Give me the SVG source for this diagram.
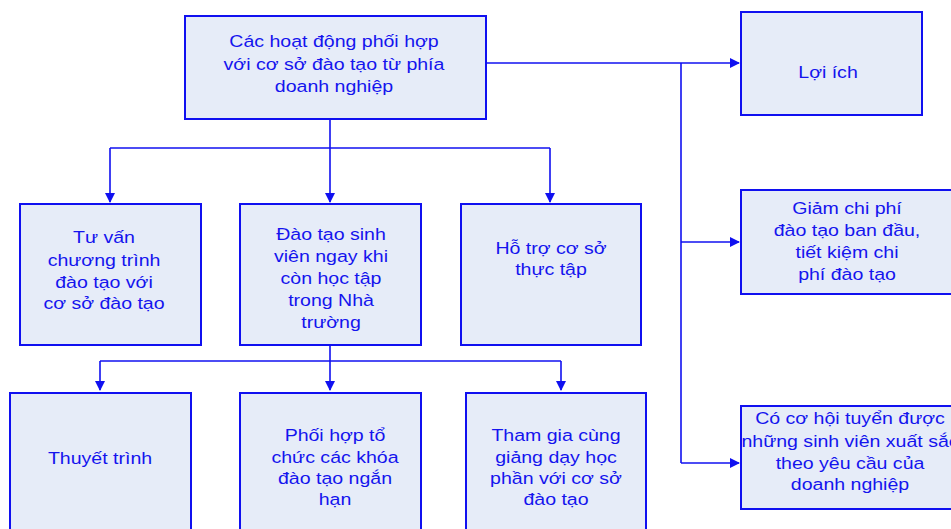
<svg xmlns="http://www.w3.org/2000/svg" width="951" height="529" viewBox="0 0 951 529">
<style>
.box{fill:#e6ecf8;stroke:#1010f0;stroke-width:2}
.t{font-family:"Liberation Sans",Arial,sans-serif;font-size:17px;fill:#1414ee;text-anchor:middle}
.c{fill:none;stroke:#1010f0;stroke-width:1.6}
</style>
<defs>
<marker id="ah" markerWidth="10" markerHeight="10" refX="9" refY="5" orient="auto" markerUnits="userSpaceOnUse">
<path d="M0,0 L10,5 L0,10 z" fill="#1010f0"/>
</marker>
</defs>
<rect width="951" height="529" fill="#ffffff"/>
<g id="connectors">
<path class="c" d="M486,63 H739" marker-end="url(#ah)"/>
<path class="c" d="M681,63 V463"/>
<path class="c" d="M681,242 H739" marker-end="url(#ah)"/>
<path class="c" d="M681,463 H739" marker-end="url(#ah)"/>
<path class="c" d="M330,119 V202" marker-end="url(#ah)"/>
<path class="c" d="M110,148 H550"/>
<path class="c" d="M110,148 V202" marker-end="url(#ah)"/>
<path class="c" d="M550,148 V202" marker-end="url(#ah)"/>
<path class="c" d="M330,345 V390" marker-end="url(#ah)"/>
<path class="c" d="M100,361 H561"/>
<path class="c" d="M100,361 V390" marker-end="url(#ah)"/>
<path class="c" d="M561,361 V390" marker-end="url(#ah)"/>
</g>
<g id="top">
<rect class="box" x="185" y="16" width="301" height="103"/>
<text class="t" transform="translate(334 47) scale(1.15 1)">Các hoạt động phối hợp</text>
<text class="t" transform="translate(334 70) scale(1.15 1)">với cơ sở đào tạo từ phía</text>
<text class="t" transform="translate(334 92) scale(1.15 1)">doanh nghiệp</text>
</g>
<g id="loiich">
<rect class="box" x="741" y="12" width="181" height="103"/>
<text class="t" transform="translate(828 78) scale(1.15 1)">Lợi ích</text>
</g>
<g id="giam">
<rect class="box" x="741" y="190" width="214" height="104"/>
<text class="t" transform="translate(847 214) scale(1.15 1)">Giảm chi phí</text>
<text class="t" transform="translate(847 236) scale(1.15 1)">đào tạo ban đầu,</text>
<text class="t" transform="translate(847 258) scale(1.15 1)">tiết kiệm chi</text>
<text class="t" transform="translate(847 280) scale(1.15 1)">phí đào tạo</text>
</g>
<g id="coco">
<rect class="box" x="741" y="406" width="220" height="103"/>
<text class="t" transform="translate(850 424) scale(1.15 1)">Có cơ hội tuyển được</text>
<text class="t" transform="translate(850 447) scale(1.15 1)">những sinh viên xuất sắc</text>
<text class="t" transform="translate(850 469) scale(1.15 1)">theo yêu cầu của</text>
<text class="t" transform="translate(850 490) scale(1.15 1)">doanh nghiệp</text>
</g>
<g id="tuvan">
<rect class="box" x="20" y="204" width="181" height="141"/>
<text class="t" transform="translate(104 243) scale(1.15 1)">Tư vấn</text>
<text class="t" transform="translate(104 266) scale(1.15 1)">chương trình</text>
<text class="t" transform="translate(104 288) scale(1.15 1)">đào tạo với</text>
<text class="t" transform="translate(104 309) scale(1.15 1)">cơ sở đào tạo</text>
</g>
<g id="daotao">
<rect class="box" x="240" y="204" width="181" height="141"/>
<text class="t" transform="translate(331 240) scale(1.15 1)">Đào tạo sinh</text>
<text class="t" transform="translate(331 262) scale(1.15 1)">viên ngay khi</text>
<text class="t" transform="translate(331 284) scale(1.15 1)">còn học tập</text>
<text class="t" transform="translate(331 306) scale(1.15 1)">trong Nhà</text>
<text class="t" transform="translate(331 328) scale(1.15 1)">trường</text>
</g>
<g id="hotro">
<rect class="box" x="461" y="204" width="180" height="141"/>
<text class="t" transform="translate(551 254) scale(1.15 1)">Hỗ trợ cơ sở</text>
<text class="t" transform="translate(551 275) scale(1.15 1)">thực tập</text>
</g>
<g id="thuyettrinh">
<rect class="box" x="10" y="393" width="181" height="150"/>
<text class="t" transform="translate(100 464) scale(1.15 1)">Thuyết trình</text>
</g>
<g id="phoihop">
<rect class="box" x="240" y="393" width="181" height="150"/>
<text class="t" transform="translate(335 441) scale(1.15 1)">Phối hợp tổ</text>
<text class="t" transform="translate(335 463) scale(1.15 1)">chức các khóa</text>
<text class="t" transform="translate(335 484) scale(1.15 1)">đào tạo ngắn</text>
<text class="t" transform="translate(335 505) scale(1.15 1)">hạn</text>
</g>
<g id="thamgia">
<rect class="box" x="466" y="393" width="180" height="150"/>
<text class="t" transform="translate(556 441) scale(1.15 1)">Tham gia cùng</text>
<text class="t" transform="translate(556 463) scale(1.15 1)">giảng dạy học</text>
<text class="t" transform="translate(556 484) scale(1.15 1)">phần với cơ sở</text>
<text class="t" transform="translate(556 505) scale(1.15 1)">đào tạo</text>
</g>
</svg>
